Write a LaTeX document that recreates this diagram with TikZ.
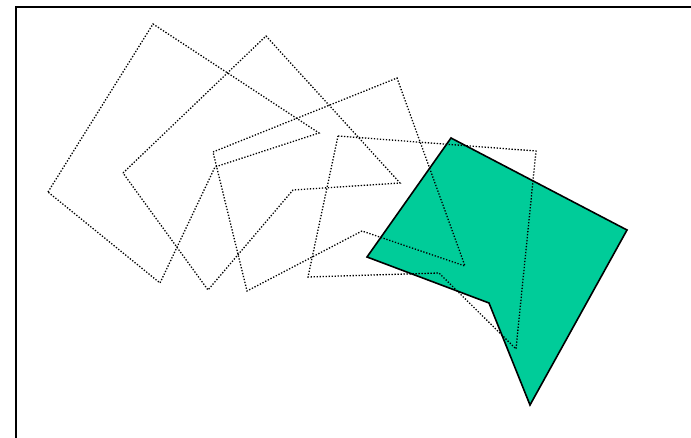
\documentclass[tikz,border=0pt]{standalone}
\usepackage{xcolor}
\usepackage{tikz}
\definecolor{shapegreen}{RGB}{0,204,153}
\usetikzlibrary{positioning}

\begin{document}
\begin{tikzpicture}[
    x=1pt, y=-1pt,
    ghost/.style={line width=1.3pt, dash pattern=on 1.3pt off 1.7pt, line join=miter},
    solidshape/.style={draw=black, line width=1.6pt, fill=shapegreen, line join=miter},
    frameline/.style={line width=2.2pt}
]
\useasboundingbox (0,0) rectangle (691,438);

\draw[frameline] (16,438) -- (16,7) -- (691,7);

\draw[solidshape] (451,138) -- (627,230) -- (530,405) -- (489,303) -- (367,257) -- cycle;

\draw[ghost] (48,192) -- (153,24) -- (319,133) -- (215,167) -- (160,283) -- cycle;
\draw[ghost] (123,173) -- (266,36) -- (400,183) -- (293,190) -- (208,290) -- cycle;
\draw[ghost] (213,152) -- (397,78) -- (465,266) -- (362,231) -- (247,291) -- cycle;
\draw[ghost] (338,136) -- (536,151) -- (516,349) -- (439,273) -- (308,277) -- cycle;

\end{tikzpicture}
\end{document}
